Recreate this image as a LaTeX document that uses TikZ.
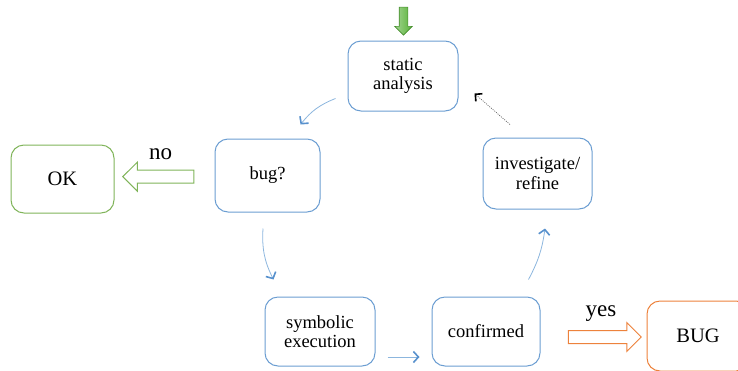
\documentclass[tikz,border=0pt]{standalone}
\usepackage{fontspec}
\setmainfont{Liberation Serif}
\usepackage{tikz}
\usetikzlibrary{arrows.meta, shapes.arrows}
\definecolor{boxblue}{RGB}{108,158,210}
\definecolor{flowblue}{RGB}{140,182,222}
\definecolor{headblue}{RGB}{88,145,205}
\definecolor{okgreen}{RGB}{128,180,90}
\definecolor{bugorange}{RGB}{237,130,60}
\definecolor{startgreen}{RGB}{88,178,56}

\begin{document}
\begin{tikzpicture}[x=1pt, y=-1pt,
  stage/.style={draw=boxblue, line width=1pt, rounded corners=13pt, fill=white,
    align=center, inner sep=0pt, font=\fontsize{18.5}{19.5}\selectfont},
  outcome/.style={stage, font=\fontsize{20.5}{22}\selectfont},
  flow/.style={flowblue, line width=0.8pt,
    -{Straight Barb[length=5pt, width=11pt, line width=1.6pt, color=headblue]}},
  blockarrow/.style={single arrow, single arrow head extend=8pt, minimum width=28pt,
    inner sep=6pt, line width=1pt, fill=white},
  answer/.style={anchor=base, font=\fontsize{23}{24}\selectfont}]
  \useasboundingbox (0,0) rectangle (738,370);
  % cycle of stages
  \node[stage, minimum width=110pt, minimum height=70pt] (sa) at (403,76) {static\\analysis};
  \node[stage, minimum width=105pt, minimum height=73pt] (bug) at (267.5,175.5) {bug?};
  \node[stage, minimum width=109pt, minimum height=71pt] (inv) at (537.5,173.5) {investigate/\\refine};
  \node[stage, minimum width=110pt, minimum height=69pt] (sym) at (320,331.5) {symbolic\\execution};
  \node[stage, minimum width=108pt, minimum height=69pt] (conf) at (486,331.5) {confirmed};
  % outcomes
  \node[outcome, draw=okgreen, minimum width=103pt, minimum height=68pt] (ok) at (62.5,179) {OK};
  \node[outcome, draw=bugorange, minimum width=102pt, minimum height=70pt] (bugout) at (698,336) {BUG};
  % entry arrow
  \node[single arrow, single arrow head extend=4.5pt, minimum width=17pt, inner sep=4pt,
    minimum height=28pt, rotate=-90, draw=startgreen!80!black, line width=0.6pt,
    left color=startgreen!55!white, right color=startgreen] (start) at (403.5,19) {};
  % no / yes
  \node[blockarrow, draw=okgreen, minimum height=71pt, rotate=180] (noarr) at (161.5,176.7) {};
  \node[answer] (nolab) at (160.5,159) {no};
  \node[blockarrow, draw=bugorange, minimum height=73pt] (yesarr) at (601.5,337) {};
  \node[answer] (yeslab) at (601,316) {yes};
  % connectors
  \draw[flow] ([shift={(-12,-13)}]sa.south west) to[bend right=15] ([shift={(-20,-14)}]bug.north east);
  \draw[flow] ([shift={(-4.5,16)}]bug.south) to[bend right=15] ([shift={(9,-17)}]sym.north west);
  \draw[flow] ([shift={(12,25.5)}]sym.east) -- ([shift={(-12,25.5)}]conf.west);
  \draw[flow] ([shift={(-12,-17)}]conf.north east) to[bend right=10] ([shift={(7.5,19)}]inv.south);
  \draw[black!60, line width=0.7pt, dash pattern=on 1pt off 1.2pt,
    -{Straight Barb[length=5pt, width=10pt, line width=1.6pt, color=black]}]
    ([shift={(-27.5,-13)}]inv.north) -- ([shift={(16,-18)}]sa.south east);
\end{tikzpicture}
\end{document}
